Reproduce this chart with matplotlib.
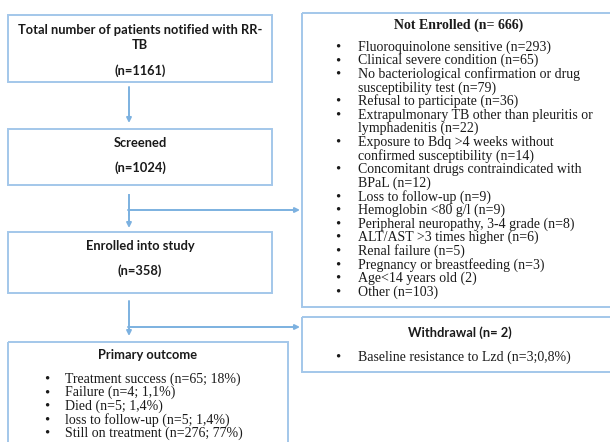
import matplotlib
matplotlib.use("Agg")
import matplotlib.pyplot as plt
from matplotlib.patches import Rectangle

# ---- flowchart text
total_title = ["Total number of patients notified with RR-", "TB"]
total_n = "(n=1161)"
screened_title = "Screened"
screened_n = "(n=1024)"
enrolled_title = "Enrolled into study"
enrolled_n = "(n=358)"

not_enrolled_title = "Not Enrolled (n= 666)"
not_enrolled_items = [
    ["Fluoroquinolone sensitive (n=293)"],
    ["Clinical severe condition (n=65)"],
    ["No bacteriological confirmation or drug", "susceptibility test (n=79)"],
    ["Refusal to participate (n=36)"],
    ["Extrapulmonary TB other than pleuritis or", "lymphadenitis (n=22)"],
    ["Exposure to Bdq >4 weeks without", "confirmed susceptibility (n=14)"],
    ["Concomitant drugs contraindicated with", "BPaL (n=12)"],
    ["Loss to follow-up (n=9)"],
    ["Hemoglobin <80 g/l (n=9)"],
    ["Peripheral neuropathy, 3-4 grade (n=8)"],
    ["ALT/AST >3 times higher (n=6)"],
    ["Renal failure (n=5)"],
    ["Pregnancy or breastfeeding (n=3)"],
    ["Age<14 years old (2)"],
    ["Other (n=103)"],
]

withdrawal_title = "Withdrawal (n= 2)"
withdrawal_items = ["Baseline resistance to Lzd (n=3;0,8%)"]

outcome_title = "Primary outcome"
outcome_items = [
    "Treatment success (n=65; 18%)",
    "Failure (n=4; 1,1%)",
    "Died (n=5; 1,4%)",
    "loss to follow-up (n=5; 1,4%)",
    "Still on treatment (n=276; 77%)",
]

box_col = "#a3c7ea"
arrow_col = "#7cb1e0"
sans = "Lato"
serif = "Liberation Serif"
LH = 13.6  # line height of bullet lists, px

fig = plt.figure(figsize=(6.1, 4.42), dpi=100)
ax = fig.add_axes([0, 0, 1, 1])
ax.set_xlim(0, 610)
ax.set_ylim(442, 0)
ax.axis("off")


def box(x0, y0, x1, y1):
    ax.add_patch(Rectangle((x0, y0), x1 - x0, y1 - y0, fill=False,
                           ec=box_col, lw=1.4))


def arrow(x0, y0, x1, y1):
    ax.annotate("", xy=(x1, y1), xytext=(x0, y0),
                arrowprops=dict(arrowstyle="-|>", color=arrow_col, lw=1.4,
                                mutation_scale=7, shrinkA=0, shrinkB=0))


def head(txt, x, y, fam=sans, size=9.3):
    ax.text(x, y, txt, ha="center", va="center", family=fam,
            fontweight="bold", fontsize=size, color="#1a1a1a")


def bullet(txt, xb, xt, y, first=True):
    if first:
        ax.text(xb, y, "\u2022", ha="center", va="center", family=serif,
                fontsize=10.5, color="#1a1a1a")
    ax.text(xt, y, txt, ha="left", va="center", family=serif,
            fontsize=10, color="#1a1a1a")


# ---- left column
box(8, 15, 272, 82)
head(total_title[0], 140, 30)
head(total_title[1], 140, 45)
head(total_n, 140, 71)
arrow(129, 87, 129, 123)

box(8, 129, 272, 185)
head(screened_title, 140, 143)
head(screened_n, 140, 168)
ax.plot([129, 129], [195, 215], color=arrow_col, lw=1.4)
arrow(129, 210, 129, 228)
arrow(128, 210, 300, 210)

box(8, 232, 272, 293)
head(enrolled_title, 140, 246)
head(enrolled_n, 140, 271)
arrow(129, 301, 129, 336)
arrow(128, 327, 300, 327)

box(8, 342, 288, 445)
head(outcome_title, 148, 355)
for i, t in enumerate(outcome_items):
    bullet(t, 47, 65, 379 + i * LH)

# ---- right column
box(302, 13, 612, 307)
head(not_enrolled_title, 459, 25, fam=serif, size=10)
y = 47
for item in not_enrolled_items:
    for j, line in enumerate(item):
        bullet(line, 338, 358, y, first=(j == 0))
        y += LH

box(302, 317, 612, 372)
head(withdrawal_title, 460, 333)
for t in withdrawal_items:
    bullet(t, 338, 358, 357)

fig.savefig("out.png", dpi=100)
